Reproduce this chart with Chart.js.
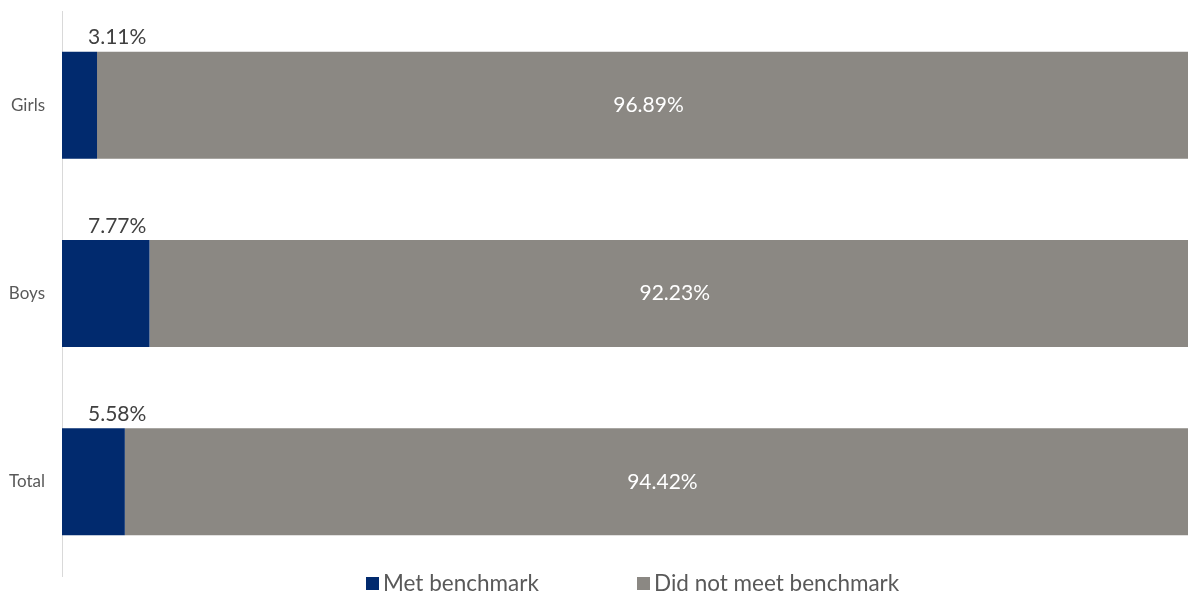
<!DOCTYPE html>
<html>
<head>
<meta charset="utf-8">
<style>
  html, body { margin: 0; padding: 0; background: #ffffff; }
  #wrap { width: 1188px; height: 594px; position: relative; }
</style>
<script src="https://cdn.jsdelivr.net/npm/chart.js@4/dist/chart.umd.min.js"></script>
</head>
<body>
<div id="wrap"><canvas id="chart" width="1188" height="594"></canvas></div>
<script>
const categories = ['Girls', 'Boys', 'Total'];
const metBenchmark = [3.11, 7.77, 5.58];
const didNotMeet = [96.89, 92.23, 94.42];
const seriesNames = ['Met benchmark', 'Did not meet benchmark'];
const seriesColors = ['#012a6e', '#8b8883'];

const FONT = 'Lato, "Open Sans", sans-serif';

const fmt = v => v.toFixed(2) + '%';

// Value labels: the small share sits above its bar, the large share inside the grey segment
const valueLabels = {
  id: 'valueLabels',
  afterDatasetsDraw(chart) {
    const ctx = chart.ctx;
    const area = chart.chartArea;
    ctx.save();
    ctx.textBaseline = 'middle';

    ctx.font = '21px ' + FONT;
    const metMeta = chart.getDatasetMeta(0);
    metMeta.data.forEach((bar, i) => {
      const top = bar.y - bar.height / 2;
      ctx.fillStyle = '#404040';
      ctx.textAlign = 'left';
      ctx.fillText(fmt(metBenchmark[i]), area.left + 26, top - 14);
    });

    ctx.font = '21px ' + FONT;
    const notMeta = chart.getDatasetMeta(1);
    notMeta.data.forEach((bar, i) => {
      ctx.fillStyle = '#ffffff';
      ctx.textAlign = 'center';
      ctx.fillText(fmt(didNotMeet[i]), (bar.base + bar.x) / 2 + 6, bar.y);
    });
    ctx.restore();
  }
};

// Legend row along the bottom edge
const bottomLegend = {
  id: 'bottomLegend',
  afterDraw(chart) {
    const ctx = chart.ctx;
    const items = [
      { x: 366, name: seriesNames[0], color: seriesColors[0] },
      { x: 637, name: seriesNames[1], color: seriesColors[1] }
    ];
    ctx.save();
    ctx.font = '22.5px ' + FONT;
    ctx.textBaseline = 'middle';
    ctx.textAlign = 'left';
    items.forEach(it => {
      ctx.fillStyle = it.color;
      ctx.fillRect(it.x, 577, 13, 13);
      ctx.fillStyle = '#595959';
      ctx.fillText(it.name, it.x + 17, 584);
    });
    ctx.restore();
  }
};

new Chart(document.getElementById('chart'), {
  type: 'bar',
  data: {
    labels: categories,
    datasets: [
      {
        label: seriesNames[0],
        data: metBenchmark,
        backgroundColor: seriesColors[0],
        borderWidth: 0,
        categoryPercentage: 1,
        barPercentage: 0.568
      },
      {
        label: seriesNames[1],
        data: didNotMeet,
        backgroundColor: seriesColors[1],
        borderWidth: 0,
        categoryPercentage: 1,
        barPercentage: 0.568
      }
    ]
  },
  options: {
    indexAxis: 'y',
    responsive: false,
    animation: false,
    devicePixelRatio: 1,
    layout: { padding: { top: 11, bottom: 18, right: 0, left: 0 } },
    plugins: {
      legend: { display: false },
      tooltip: { enabled: false }
    },
    scales: {
      x: {
        stacked: true,
        min: 0,
        max: 100,
        display: false
      },
      y: {
        stacked: true,
        grid: { display: false },
        border: { display: true, color: '#d9d9d9', width: 1 },
        ticks: {
          color: '#595959',
          font: { family: FONT, size: 17 },
          padding: 9
        },
        afterFit(scale) {
          scale.width = 62;
          scale.paddingTop = 0;
          scale.paddingBottom = 0;
        }
      }
    }
  },
  plugins: [valueLabels, bottomLegend]
});
</script>
</body>
</html>
